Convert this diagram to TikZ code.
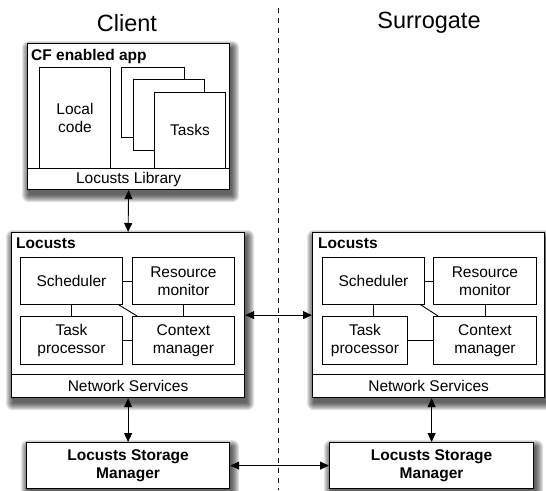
\documentclass[tikz,border=0pt]{standalone}
\usepackage{fontspec}
\setmainfont{Liberation Sans}
\usetikzlibrary{arrows.meta,backgrounds}

\tikzset{
  panel/.style={draw, line width=1.2pt, fill=white, inner sep=0pt, anchor=north west},
  part/.style={draw, line width=0.9pt, fill=white, inner sep=0pt, anchor=north west, align=center},
  strip/.style={draw, line width=1.2pt, fill=white, inner sep=0pt, anchor=south},
  heading/.style={font=\fontsize{15.5}{18}\selectfont\bfseries, anchor=west, inner sep=0pt},
  side/.style={font=\fontsize{23.5}{28}\selectfont, inner sep=0pt},
  link/.style={{Triangle[length=9pt,width=8pt]}-{Triangle[length=9pt,width=8pt]}, line width=0.9pt},
  tie/.style={line width=0.9pt},
  haze/.style={fill=black, opacity=0.11}
}

\begin{document}
\begin{tikzpicture}[x=1pt, y=-1pt, font=\fontsize{15.5}{18}\selectfont]
  \useasboundingbox (0,0) rectangle (546,490);

  % client / surrogate split
  \node[side] (client) at (127,23) {Client};
  \node[side] (surrogate) at (429,23) {Surrogate};
  \draw[line width=1pt, dash pattern=on 5pt off 5pt] (278,8) -- (278,490);

  % CF enabled app
  \node[panel, minimum width=202pt, minimum height=146pt] (app) at (27,43) {};
  \node[heading] (applbl) at (31,56) {CF enabled app};
  \node[strip, minimum width=202pt, minimum height=21pt] (lib) at (app.south) {Locusts Library};
  \node[part, minimum width=71pt, minimum height=101pt] (local) at (39,67) {Local\\code};
  \node[part, minimum width=63pt, minimum height=70pt] (task3) at (121,67) {};
  \node[part, minimum width=71pt, minimum height=71pt] (task2) at (133,79) {};
  \node[part, minimum width=71pt, minimum height=76pt] (task1) at (154,92) {Tasks};

  % Locusts on the client
  \node[panel, minimum width=233pt, minimum height=165pt] (locL) at (11,232) {};
  \node[heading] (locLlbl) at (16,243) {Locusts};
  \node[strip, minimum width=233pt, minimum height=23pt] (netL) at (locL.south) {Network Services};
  \node[part, minimum width=102pt, minimum height=47pt] (schL) at (20,257) {Scheduler};
  \node[part, minimum width=102pt, minimum height=47pt] (resL) at (132,257) {Resource\\monitor};
  \node[part, minimum width=102pt, minimum height=48pt] (tskL) at (20,316) {Task\\processor};
  \node[part, minimum width=102pt, minimum height=48pt] (ctxL) at (132,316) {Context\\manager};
  \draw[tie] (schL.east) -- (resL.west);
  \draw[tie] (tskL.east) -- (ctxL.west);
  \draw[tie] (schL.south) -- (schL.south |- tskL.north);
  \draw[tie] (resL.south) -- (resL.south |- ctxL.north);
  \draw[tie] ([xshift=-4pt]schL.south east) -- ([xshift=5pt]ctxL.north west);

  % Locusts on the surrogate
  \node[panel, minimum width=232pt, minimum height=165pt] (locR) at (312,232) {};
  \node[heading] (locRlbl) at (318,243) {Locusts};
  \node[strip, minimum width=232pt, minimum height=23pt] (netR) at (locR.south) {Network Services};
  \node[part, minimum width=102pt, minimum height=47pt] (schR) at (322,257) {Scheduler};
  \node[part, minimum width=103pt, minimum height=47pt] (resR) at (433,257) {Resource\\monitor};
  \node[part, minimum width=85pt, minimum height=48pt] (tskR) at (322,316) {Task\\processor};
  \node[part, minimum width=103pt, minimum height=48pt] (ctxR) at (433,316) {Context\\manager};
  \draw[tie] (schR.east) -- (resR.west);
  \draw[tie] (tskR.east) -- (ctxR.west);
  \draw[tie] (schR.south) -- (schR.south |- tskR.north);
  \draw[tie] (resR.south) -- (resR.south |- ctxR.north);
  \draw[tie] ([xshift=-4pt]schR.south east) -- ([xshift=5pt]ctxR.north west);

  % storage managers
  \node[panel, minimum width=203pt, minimum height=46pt, align=center,
    font=\fontsize{15.5}{18}\selectfont\bfseries] (stoL) at (26,442) {Locusts Storage\\Manager};
  \node[panel, minimum width=204pt, minimum height=46pt, align=center,
    font=\fontsize{15.5}{18}\selectfont\bfseries] (stoR) at (329,442) {Locusts Storage\\Manager};

  % soft shadows behind the panels
  \begin{scope}[on background layer]
    \foreach \b in {app,locL,locR,stoL,stoR}
      \foreach \e in {0,...,7}
        \fill[haze, rounded corners=\e pt]
          ([shift={(2-\e,5-\e)}]\b.north west) rectangle ([shift={(2+\e,5+\e)}]\b.south east);
  \end{scope}

  % links
  \draw[link] (app.south) -- (locL.north);
  \draw[link] (locL.east) -- (locR.west);
  \draw[link] (locL.south) -- (locL.south |- stoL.north);
  \draw[link] (stoR.north |- locR.south) -- (stoR.north);
  \draw[link] (stoL.east) -- (stoR.west);
\end{tikzpicture}
\end{document}
